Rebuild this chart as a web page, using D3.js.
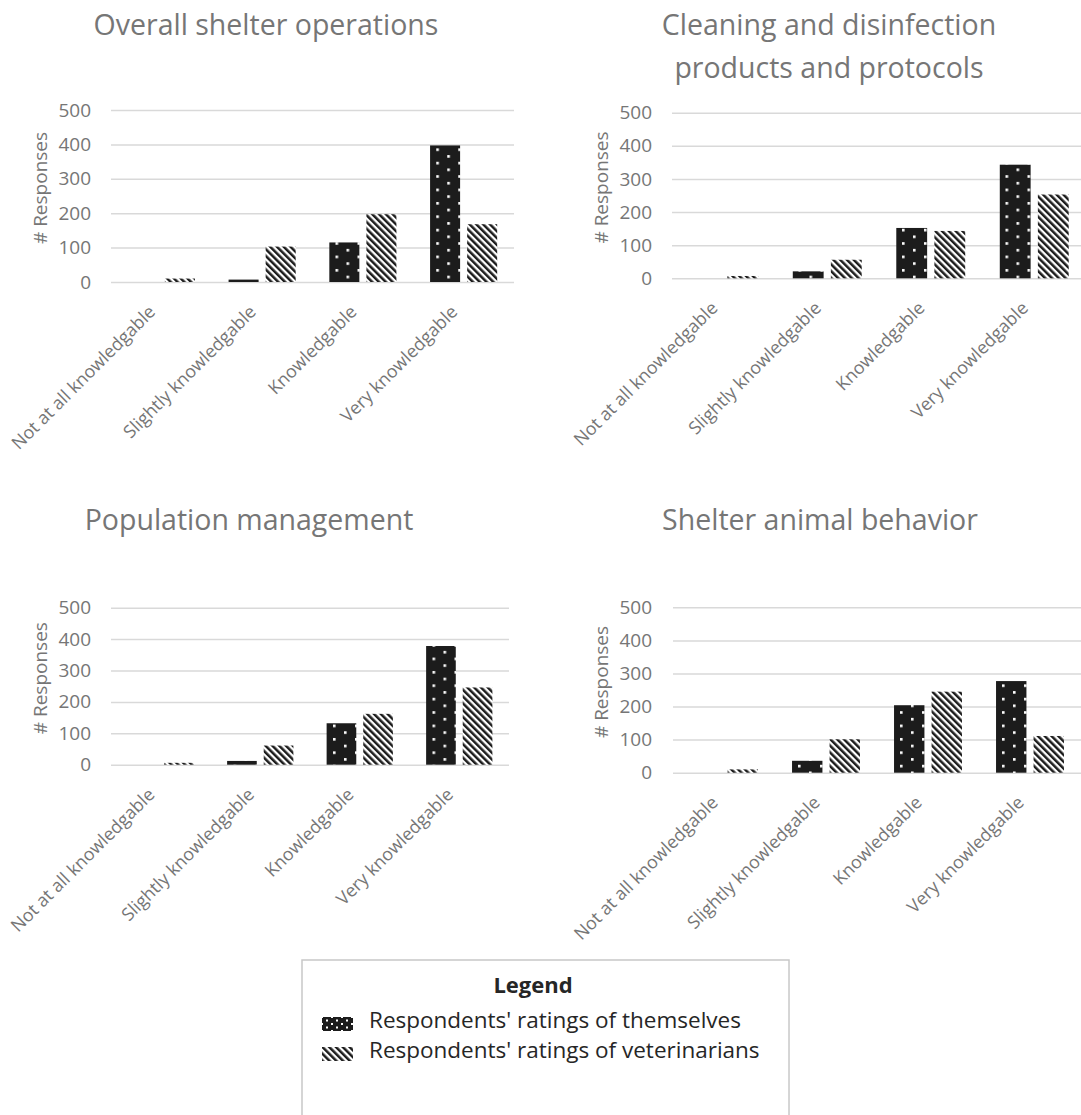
<!DOCTYPE html>
<html>
<head>
<meta charset="utf-8">
<script src="https://cdn.jsdelivr.net/npm/d3@7"></script>
<style>
  body { margin: 0; background: #fff; }
  svg { display: block; font-family: "Open Sans", sans-serif; }
</style>
</head>
<body>
<svg id="chart" width="1081" height="1115"></svg>
<script>
const categories = ["Not at all knowledgable", "Slightly knowledgable", "Knowledgable", "Very knowledgable"];
const seriesNames = ["Respondents' ratings of themselves", "Respondents' ratings of veterinarians"];
const yTicks = [0, 100, 200, 300, 400, 500];

const panelTitles = [
  ["Overall shelter operations"],
  ["Cleaning and disinfection", "products and protocols"],
  ["Population management"],
  ["Shelter animal behavior"],
];

// [themselves, veterinarians] per category
const overallSelf = [0, 7, 115, 397];
const overallVet = [10, 103, 197, 168];
const cleaningSelf = [0, 21, 152, 343];
const cleaningVet = [7, 56, 143, 253];
const populationSelf = [0, 12, 132, 378];
const populationVet = [6, 61, 162, 246];
const behaviorSelf = [0, 36, 204, 277];
const behaviorVet = [10, 101, 245, 111];

const panelValues = [
  [overallSelf, overallVet],
  [cleaningSelf, cleaningVet],
  [populationSelf, populationVet],
  [behaviorSelf, behaviorVet],
];

// where each small chart sits on the page
const layout = [
  { cx: 266, titleY: 35,  left: 111, right: 514,  bottom: 282,   top: 110,   tickX: 91,  axisX: 47 },
  { cx: 829, titleY: 35,  left: 672, right: 1086, bottom: 278.3, top: 112.7, tickX: 652, axisX: 608 },
  { cx: 249, titleY: 530, left: 111, right: 509,  bottom: 764.7, top: 607.7, tickX: 91,  axisX: 47 },
  { cx: 820, titleY: 530, left: 673, right: 1081, bottom: 772.7, top: 607.3, tickX: 652, axisX: 608 },
];

const GREY = "#767676";
const svg = d3.select("#chart");
svg.append("rect").attr("width", 1081).attr("height", 1115).attr("fill", "#fff");

// fill patterns
const defs = svg.append("defs");
function dotPattern(id, w, h, s) {
  const p = defs.append("pattern").attr("id", id)
    .attr("patternUnits", "userSpaceOnUse").attr("width", w).attr("height", h);
  p.append("rect").attr("width", w).attr("height", h).attr("fill", "#1c1c1c");
  p.append("rect").attr("x", 1).attr("y", 1).attr("width", s).attr("height", s).attr("fill", "#fff");
  p.append("rect").attr("x", 1 + w / 2).attr("y", 1 + h / 2).attr("width", s).attr("height", s).attr("fill", "#fff");
}
dotPattern("dots", 22, 13.4, 2.6);
dotPattern("dotsSmall", 10, 7, 2);

const stripes = defs.append("pattern").attr("id", "stripes")
  .attr("patternUnits", "userSpaceOnUse").attr("width", 4.8).attr("height", 10)
  .attr("patternTransform", "rotate(-45)");
stripes.append("rect").attr("width", 4.8).attr("height", 10).attr("fill", "#fff");
stripes.append("rect").attr("width", 2.5).attr("height", 10).attr("fill", "#1c1c1c");

const fills = ["url(#dots)", "url(#stripes)"];

panelValues.forEach((vals, pi) => {
  const L = layout[pi];
  const g = svg.append("g");

  const x0 = d3.scaleBand().domain(categories).range([L.left, L.right]).padding(0);
  const bw = x0.bandwidth();
  const x1 = d3.scaleBand().domain([0, 1]).range([bw * 0.167, bw * 0.833]).paddingInner(0.19);
  const y = d3.scaleLinear().domain([0, 500]).range([L.bottom, L.top]);

  // title
  const t = g.append("text").attr("x", L.cx).attr("y", L.titleY)
    .attr("text-anchor", "middle").attr("fill", GREY).attr("font-size", 28.5);
  panelTitles[pi].forEach((line, li) => {
    t.append("tspan").attr("x", L.cx).attr("dy", li === 0 ? 0 : 43).text(line);
  });

  // gridlines + y tick labels
  const yAxis = d3.axisLeft(y).tickValues(yTicks).tickSize(-(L.right - L.left)).tickPadding(0);
  const ya = g.append("g").attr("transform", `translate(${L.left},0)`).call(yAxis);
  ya.select(".domain").remove();
  ya.selectAll(".tick line").attr("stroke", "#d9d9d9").attr("stroke-width", 1.5);
  ya.selectAll(".tick text")
    .attr("x", L.tickX - L.left).attr("fill", GREY)
    .attr("font-size", 19).attr("font-family", "Open Sans, sans-serif");

  // axis title
  g.append("text")
    .attr("transform", `translate(${L.axisX},${(L.top + L.bottom) / 2 - 8}) rotate(-90)`)
    .attr("text-anchor", "middle").attr("fill", GREY).attr("font-size", 19)
    .text("# Responses");

  // bars
  const groups = g.selectAll(".cat").data(categories).join("g")
    .attr("transform", d => `translate(${x0(d)},0)`);
  groups.selectAll("rect")
    .data((d, ci) => [0, 1].map(si => ({ si, v: vals[si][ci] })))
    .join("rect")
    .attr("x", d => x1(d.si))
    .attr("width", x1.bandwidth())
    .attr("y", d => y(d.v))
    .attr("height", d => y(0) - y(d.v))
    .attr("fill", d => fills[d.si]);

  // x labels, rotated
  const xAxis = d3.axisBottom(x0).tickSize(0).tickPadding(0);
  const xa = g.append("g").attr("transform", `translate(0,${L.bottom})`).call(xAxis);
  xa.select(".domain").remove();
  xa.selectAll(".tick text")
    .attr("fill", GREY).attr("font-size", 17.8).attr("font-family", "Open Sans, sans-serif")
    .attr("text-anchor", "end")
    .attr("dy", 0)
    .attr("transform", "translate(-5,31) rotate(-45)");
});

// legend
const lg = svg.append("g");
lg.append("rect").attr("x", 302).attr("y", 960).attr("width", 487).attr("height", 170)
  .attr("fill", "#fff").attr("stroke", "#c8c8c8").attr("stroke-width", 1.5);
lg.append("text").attr("x", 533).attr("y", 993).attr("text-anchor", "middle")
  .attr("font-size", 22).attr("font-weight", "bold").attr("fill", "#262626").text("Legend");
const legendFills = ["url(#dotsSmall)", "url(#stripes)"];
seriesNames.forEach((name, i) => {
  const base = 1028 + i * 30;
  lg.append("rect").attr("x", 322).attr("y", base - 11).attr("width", 31).attr("height", 14)
    .attr("fill", legendFills[i]);
  lg.append("text").attr("x", 369).attr("y", base).attr("font-size", 22.5)
    .attr("fill", "#262626").text(name);
});
</script>
</body>
</html>
